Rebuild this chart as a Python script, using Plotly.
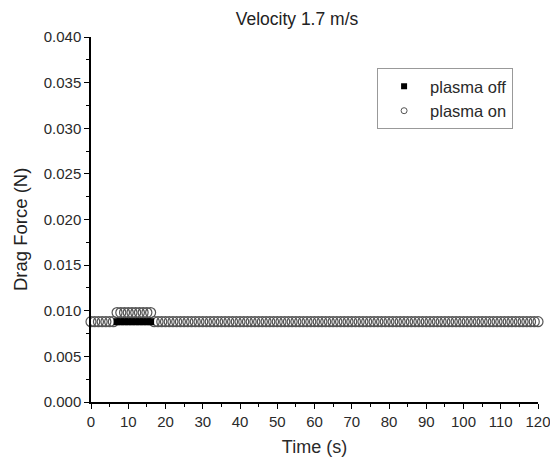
import plotly.graph_objects as go

# plasma off (filled squares)
off_time = [7, 8, 9, 10, 11, 12, 13, 14, 15, 16]
off_force = [0.0088] * 10

# plasma on (open circles)
on_time = list(range(0, 121))
on_force = [0.0098 if 7 <= t <= 16 else 0.0088 for t in on_time]

x_ticks = list(range(0, 121, 10))
y_ticks = [0.000, 0.005, 0.010, 0.015, 0.020, 0.025, 0.030, 0.035, 0.040]

fig = go.Figure()
fig.add_trace(go.Scatter(
    x=on_time, y=on_force, mode="markers", name="plasma on", showlegend=False,
    marker=dict(symbol="circle-open", size=10, color="#555555", line=dict(width=1.2)),
    cliponaxis=False,
))
fig.add_trace(go.Scatter(
    x=off_time, y=off_force, mode="markers", name="plasma off", showlegend=False,
    marker=dict(symbol="square", size=7, color="black"),
    cliponaxis=False,
))
# legend entries with the small legend symbols of the reference
fig.add_trace(go.Scatter(
    x=[None], y=[None], mode="markers", name="plasma on",
    marker=dict(symbol="circle-open", size=6, color="#555555", line=dict(width=1)),
))
fig.add_trace(go.Scatter(
    x=[None], y=[None], mode="markers", name="plasma off",
    marker=dict(symbol="square", size=6, color="black"),
))

# page body has an 8px margin: figure is sized/positioned to compensate
W, H = 550, 455
L, R, T, B = 83, 20, 29, 61
font = "Liberation Sans, Arial, sans-serif"
fig.update_layout(
    width=W, height=H,
    margin=dict(l=L, r=R, t=T, b=B),
    paper_bgcolor="white", plot_bgcolor="white",
    font=dict(family=font, size=15, color="#2a2a2a"),
    title=dict(text="Velocity 1.7 m/s", x=289 / W, xanchor="center",
               y=1 - 11 / H, yanchor="middle", font=dict(size=17.5, color="#222222")),
    showlegend=True,
    legend=dict(x=0.64, y=0.915, xanchor="left", yanchor="top",
                bordercolor="#999999", borderwidth=1, bgcolor="white",
                font=dict(size=16.5), traceorder="reversed",
                itemwidth=42, tracegroupgap=0),
    xaxis=dict(range=[0, 120], tickvals=x_ticks, showgrid=False, zeroline=False,
               automargin=False,
               showline=True, linecolor="black", linewidth=1.5,
               ticks="outside", ticklen=5, tickwidth=1.2, tickcolor="black",
               minor=dict(ticks="outside", ticklen=3, tickwidth=1.2, tickcolor="black", dtick=5, showgrid=False),
               title=dict(text="Time (s)", font=dict(size=18), standoff=12)),
    yaxis=dict(range=[0, 0.040], tickvals=y_ticks, tickformat=".3f", showgrid=False, zeroline=False,
               automargin=False,
               showline=True, linecolor="black", linewidth=1.5,
               ticks="outside", ticklen=5, tickwidth=1.2, tickcolor="black",
               minor=dict(ticks="outside", ticklen=3, tickwidth=1.2, tickcolor="black", dtick=0.0025, showgrid=False)),
    annotations=[dict(text="Drag Force (N)", xref="paper", yref="paper",
                      x=(13 - L) / (W - L - R), y=(H - B - 222) / (H - T - B),
                      xanchor="center", yanchor="middle", textangle=-90,
                      showarrow=False, font=dict(size=18.5, color="#222222"))],
)
fig.write_html("out.html")
